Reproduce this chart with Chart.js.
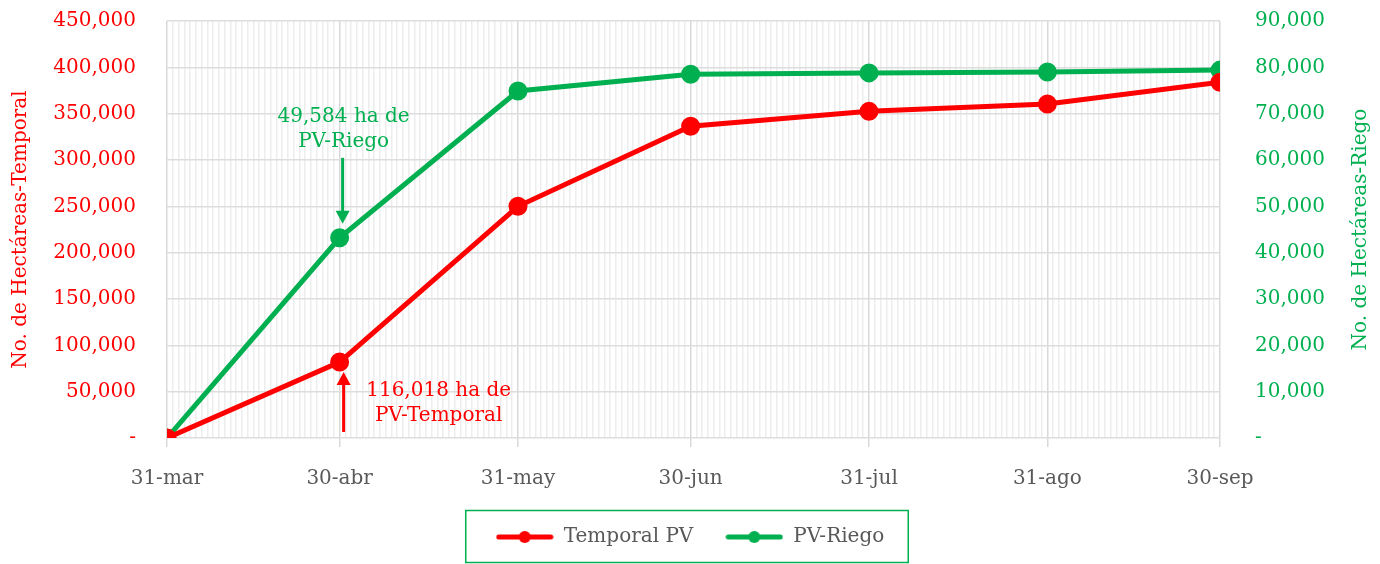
<!DOCTYPE html>
<html>
<head>
<meta charset="utf-8">
<script src="https://cdn.jsdelivr.net/npm/chart.js@4.4.1/dist/chart.umd.min.js"></script>
<style>
  body { margin: 0; background: #fff; }
  #wrap { width: 1380px; height: 564px; }
</style>
</head>
<body>
<div id="wrap"><canvas id="myChart" width="1380" height="564"></canvas></div>
<script>
// days counted from 31-mar
const dayLabels = ['31-mar', '30-abr', '31-may', '30-jun', '31-jul', '31-ago', '30-sep'];
const dayNums = [0, 30, 61, 91, 122, 153, 183];
const temporalPV = [0, 82000, 250000, 336500, 352500, 360500, 384000];
const pvRiego = [0, 43200, 74900, 78500, 78800, 79000, 79400];
const noteRiego = ['49,584 ha de', 'PV-Riego'];
const noteTemporal = ['116,018 ha de', 'PV-Temporal'];
const titleLeft = 'No. de Hectáreas-Temporal';
const titleRight = 'No. de Hectáreas-Riego';

const RED = '#FF0000';
const GREEN = '#00B050';
const GREY = '#595959';
const FONT = "'DejaVu Serif', serif";
const FS = 20;

function legendIcon(color) {
    const c = document.createElement('canvas');
    c.width = 58; c.height = 14;
    const g = c.getContext('2d');
    g.strokeStyle = color;
    g.lineWidth = 5;
    g.lineCap = 'round';
    g.beginPath(); g.moveTo(3, 7); g.lineTo(55, 7); g.stroke();
    g.fillStyle = color;
    g.beginPath(); g.arc(29, 7, 6, 0, Math.PI * 2); g.fill();
    return c;
}
const icons = [legendIcon(RED), legendIcon(GREEN)];

function arrow(ctx, x, yFrom, yTip, color) {
    const dir = yTip > yFrom ? 1 : -1;
    ctx.strokeStyle = color;
    ctx.fillStyle = color;
    ctx.lineWidth = 3;
    ctx.beginPath();
    ctx.moveTo(x, yFrom);
    ctx.lineTo(x, yTip - dir * 10);
    ctx.stroke();
    ctx.beginPath();
    ctx.moveTo(x - 7, yTip - dir * 13);
    ctx.lineTo(x + 7, yTip - dir * 13);
    ctx.lineTo(x, yTip);
    ctx.closePath();
    ctx.fill();
}

const notesPlugin = {
    id: 'notes',
    afterDatasetsDraw(chart) {
        const ctx = chart.ctx;
        const xs = chart.scales.x, yl = chart.scales.y, yr = chart.scales.y2;
        const px = xs.getPixelForValue(dayNums[1]);
        const gy = yr.getPixelForValue(pvRiego[1]);
        const ry = yl.getPixelForValue(temporalPV[1]);
        ctx.save();
        ctx.font = FS + 'px ' + FONT;
        ctx.textBaseline = 'middle';
        ctx.textAlign = 'center';
        ctx.fillStyle = GREEN;
        ctx.fillText(noteRiego[0], px + 4, gy - 121);
        ctx.fillText(noteRiego[1], px + 4, gy - 96);
        arrow(ctx, px + 3, gy - 80, gy - 14, GREEN);
        ctx.fillStyle = RED;
        ctx.fillText(noteTemporal[0], px + 99, ry + 29);
        ctx.fillText(noteTemporal[1], px + 99, ry + 54);
        arrow(ctx, px + 4, ry + 70, ry + 10, RED);
        ctx.restore();
    },
    afterDraw(chart) {
        const ctx = chart.ctx;
        const a = chart.chartArea;
        ctx.save();
        // right axis title, read bottom to top
        ctx.translate(1361, (a.top + a.bottom) / 2);
        ctx.rotate(-Math.PI / 2);
        ctx.font = FS + 'px ' + FONT;
        ctx.fillStyle = GREEN;
        ctx.textAlign = 'center';
        ctx.textBaseline = 'middle';
        ctx.fillText(titleRight, 0, 0);
        ctx.restore();
        // legend frame
        const boxes = chart.legend.legendHitBoxes;
        if (boxes && boxes.length) {
            const l = boxes[0].left - 30;
            const last = boxes[boxes.length - 1];
            const r = last.left + last.width + 24;
            ctx.save();
            ctx.strokeStyle = GREEN;
            ctx.lineWidth = 1.5;
            ctx.strokeRect(l, 510.5, r - l, 52);
            ctx.restore();
        }
    }
};

const ctx = document.getElementById('myChart').getContext('2d');
const chart = new Chart(ctx, {
    type: 'line',
    data: {
        datasets: [{
            label: 'Temporal PV',
            data: dayNums.map((d, i) => ({ x: d, y: temporalPV[i] })),
            borderColor: RED,
            backgroundColor: RED,
            borderWidth: 5,
            pointRadius: 7,
            pointHoverRadius: 7,
            yAxisID: 'y',
            order: 1
        }, {
            label: 'PV-Riego',
            data: dayNums.map((d, i) => ({ x: d, y: pvRiego[i] })),
            borderColor: GREEN,
            backgroundColor: GREEN,
            borderWidth: 5,
            pointRadius: 7,
            pointHoverRadius: 7,
            yAxisID: 'y2',
            order: 2
        }]
    },
    options: {
        responsive: false,
        animation: false,
        layout: { padding: { left: 0, right: 0, top: 0, bottom: 7 } },
        plugins: {
            tooltip: { enabled: false },
            legend: {
                position: 'bottom',
                labels: {
                    usePointStyle: true,
                    pointStyleWidth: 58,
                    color: GREY,
                    font: { family: FONT, size: FS },
                    padding: 32,
                    generateLabels(ch) {
                        const items = Chart.defaults.plugins.legend.labels.generateLabels(ch);
                        items.forEach((it, i) => { it.pointStyle = icons[i]; });
                        return items;
                    }
                }
            }
        },
        scales: {
            x: {
                type: 'linear',
                min: 0,
                max: 183,
                afterBuildTicks(scale) {
                    const t = [];
                    for (let i = 0; i <= 183; i++) t.push({ value: i });
                    scale.ticks = t;
                },
                afterFit(scale) { scale.height = 57; },
                ticks: {
                    autoSkip: false,
                    maxRotation: 0,
                    color: GREY,
                    font: { family: FONT, size: FS },
                    padding: 20,
                    callback(v) {
                        const k = dayNums.indexOf(v);
                        return k >= 0 ? dayLabels[k] : '';
                    }
                },
                grid: {
                    color(c) { return dayNums.includes(c.tick.value) ? '#D9D9D9' : '#EDEDED'; },
                    lineWidth: 1.5,
                    tickColor(c) { return dayNums.includes(c.tick.value) ? '#D9D9D9' : 'rgba(0,0,0,0)'; },
                    tickLength: 9
                },
                border: { display: false }
            },
            y: {
                position: 'left',
                min: 0,
                max: 450000,
                afterFit(scale) { scale.width = 167; scale.paddingTop = 21; scale.paddingBottom = 0; },
                ticks: {
                    stepSize: 50000,
                    color: RED,
                    font: { family: FONT, size: FS },
                    padding: 31,
                    callback(v) { return v === 0 ? '-' : v.toLocaleString('en-US'); }
                },
                title: {
                    display: true,
                    text: titleLeft,
                    color: RED,
                    font: { family: FONT, size: FS },
                    padding: 9
                },
                grid: { color: '#DDDDDD', lineWidth: 1.5, drawTicks: false },
                border: { display: false }
            },
            y2: {
                position: 'right',
                min: 0,
                max: 90000,
                afterFit(scale) { scale.width = 160; scale.paddingTop = 21; scale.paddingBottom = 0; },
                ticks: {
                    stepSize: 10000,
                    color: GREEN,
                    font: { family: FONT, size: FS },
                    padding: 35,
                    callback(v) { return v === 0 ? '-' : v.toLocaleString('en-US'); }
                },
                grid: { drawOnChartArea: false, drawTicks: false },
                border: { display: false }
            }
        }
    },
    plugins: [notesPlugin]
});
</script>
</body>
</html>
